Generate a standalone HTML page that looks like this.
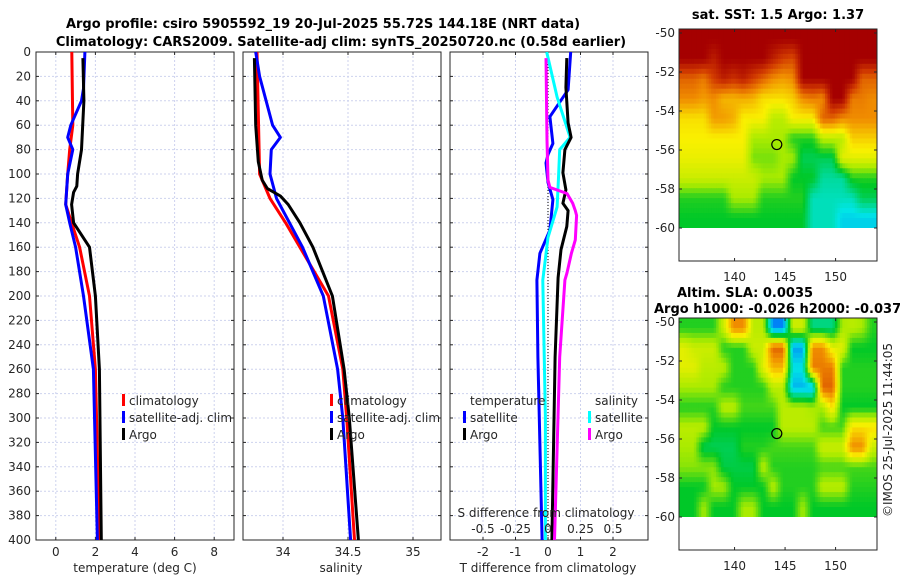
<!DOCTYPE html>
<html><head><meta charset="utf-8"><style>
body{margin:0;background:#fff;}
svg{display:block;font-family:"DejaVu Sans","Liberation Sans",sans-serif;}
.tk{font-size:12px;fill:#262626;}
.tt{font-size:13px;font-weight:bold;fill:#000;}
</style></head><body>
<svg id="fig" width="900" height="580" viewBox="0 0 900 580">
<defs>
<clipPath id="c1"><rect x="36" y="52" width="198" height="488"/></clipPath>
<clipPath id="c2"><rect x="243" y="52" width="198" height="488"/></clipPath>
<clipPath id="c3"><rect x="450" y="52" width="198" height="488"/></clipPath>
<clipPath id="cm1"><rect x="679" y="29" width="198" height="232"/></clipPath>
<clipPath id="cm2"><rect x="679" y="318" width="198" height="232"/></clipPath>
</defs>
<g>
<text class="tt" x="323" y="28" text-anchor="middle">Argo profile: csiro 5905592_19 20-Jul-2025 55.72S 144.18E (NRT data)</text>
<text class="tt" x="341" y="46" text-anchor="middle">Climatology: CARS2009. Satellite-adj clim: synTS_20250720.nc (0.58d earlier)</text>
</g>
<g id="p1"></g>
<g id="p2"></g>
<g id="p3"></g>
<g id="m1"></g>
<g id="m2"></g>
<text class="tk" transform="translate(892,430) rotate(-90)" text-anchor="middle">©IMOS 25-Jul-2025 11:44:05</text>
</svg>
<script>
// ---- profile data ----
const depthTick = [0,20,40,60,80,100,120,140,160,180,200,220,240,260,280,300,320,340,360,380,400];
const tempTicks = [0,2,4,6,8];
const salTicks = [34,34.5,35];
const salTickLabels = ["34","34.5","35"];
const dTTicks = [-2,-1,0,1,2];
const dSTickLabels = ["-0.5","-0.25","0","0.25","0.5"];
const dSTicks = [-0.5,-0.25,0,0.25,0.5];

const tClimDepth = [0,60,80,100,125,140,160,200,260,400];
const tClimVal   = [0.81,0.86,0.7,0.6,0.5,0.8,1.2,1.7,2.0,2.2];
const tSatDepth  = [0,30,40,60,70,80,100,125,140,160,200,260,400];
const tSatVal    = [1.47,1.4,1.3,0.76,0.6,0.86,0.6,0.5,0.7,1.0,1.4,1.9,2.1];
const tArgoDepth = [5,40,80,100,110,115,125,140,160,200,260,400];
const tArgoVal   = [1.37,1.42,1.3,1.1,1.06,0.9,0.8,0.9,1.7,2.0,2.2,2.3];

const sClimDepth = [0,100,120,140,160,200,260,300,400];
const sClimVal   = [33.80,33.82,33.90,34.02,34.13,34.35,34.46,34.49,34.55];
const sSatDepth  = [0,20,40,60,70,80,100,120,140,160,200,260,300,400];
const sSatVal    = [33.79,33.82,33.87,33.92,33.98,33.91,33.90,33.95,34.05,34.15,34.31,34.42,34.46,34.52];
const sArgoDepth = [5,60,90,105,112,118,125,140,160,200,260,300,400];
const sArgoVal   = [33.78,33.79,33.81,33.84,33.88,33.98,34.04,34.13,34.23,34.38,34.47,34.51,34.58];

const dTSatDepth = [0,31,53,75,84,91,107,121,146,165,187,250,400];
const dTSatVal   = [0.7,0.62,0.06,0.15,0,-0.06,0,0.15,0.06,-0.25,-0.34,-0.31,-0.18];
const dSSatDepth = [0,37,70,80,105,127,152,187,300,400];
const dSSatVal   = [-0.01,0.07,0.17,0.09,0.08,0.07,0,-0.04,-0.02,-0.02];
const dTArgoDepth = [5,29,58,70,80,99,113,124,130,143,162,185,250,400];
const dTArgoVal   = [0.58,0.55,0.62,0.71,0.52,0.46,0.55,0.46,0.62,0.58,0.4,0.31,0.22,0.12];
const dSArgoDepth = [5,72,105,111,116,124,130,134,154,165,181,187,250,400];
const dSArgoVal   = [-0.015,-0.008,0,0.015,0.146,0.19,0.21,0.22,0.21,0.18,0.146,0.13,0.09,0.05];

// ---- map data (rows lat -50..-60, cols lon 134.5..154 in ~1 deg) ----
const mapLatTicks = [-50,-52,-54,-56,-58,-60];
const mapLonTicks = [140,145,150];
const argoLon = 144.18, argoLat = -55.72;
const sstGrid = [
[1,1,1,1,1,1,1,1,1,1,1,1,1,1,1,1,1,1,1,1],
[1,1,1,.95,1,1,1,1,1,.95,.9,.88,1,1,1,1,1,1,1,1],
[.85,.85,.82,.9,.95,.92,.95,.9,.85,.8,.78,.8,1,1,1,1,1,1,.85,.85],
[.8,.8,.78,.8,.75,.75,.76,.75,.7,.7,.7,.72,.8,.82,.8,1,1,.82,.82,.8],
[.7,.7,.7,.78,.78,.76,.68,.68,.68,.6,.6,.68,.68,.68,.85,.85,.8,.8,.8,.8],
[.68,.68,.68,.68,.68,.68,.68,.58,.58,.58,.58,.5,.5,.5,.6,.6,.6,.72,.72,.72],
[.66,.66,.66,.66,.66,.66,.66,.55,.55,.55,.58,.58,.45,.45,.45,.45,.65,.65,.65,.65],
[.62,.62,.62,.62,.62,.62,.62,.62,.58,.58,.58,.48,.48,.48,.4,.4,.4,.5,.5,.5],
[.5,.5,.5,.5,.5,.58,.58,.58,.5,.5,.5,.5,.5,.38,.38,.38,.38,.38,.45,.45],
[.48,.48,.48,.48,.48,.48,.48,.48,.48,.48,.48,.48,.48,.38,.38,.38,.33,.33,.33,.33]
];
const slaGrid = [
[.5,.5,.5,.5,.62,.8,.8,.6,.6,.25,.25,.62,.62,.42,.42,.42,.58,.6,.58,.5],
[.65,.62,.62,.62,.5,.5,.5,.62,.62,.85,.85,.28,.28,.8,.8,.65,.65,.48,.48,.48],
[.65,.65,.6,.6,.6,.5,.5,.5,.65,.75,.75,.35,.35,.82,.82,.82,.5,.5,.5,.5],
[.58,.58,.58,.58,.5,.5,.5,.5,.5,.6,.6,.3,.3,.3,.85,.85,.5,.5,.5,.5],
[.5,.5,.5,.5,.6,.6,.52,.52,.52,.52,.6,.6,.6,.58,.58,.7,.48,.48,.48,.48],
[.6,.6,.6,.48,.48,.48,.48,.48,.48,.48,.6,.6,.6,.6,.52,.52,.52,.7,.7,.7],
[.58,.58,.45,.45,.45,.45,.5,.5,.5,.52,.52,.52,.52,.52,.62,.62,.62,.8,.8,.62],
[.56,.56,.56,.56,.46,.46,.46,.46,.6,.5,.5,.5,.5,.5,.52,.52,.52,.52,.52,.52],
[.48,.48,.48,.58,.58,.48,.48,.48,.48,.6,.5,.5,.5,.5,.6,.6,.6,.5,.5,.5],
[.48,.48,.58,.48,.48,.48,.58,.58,.48,.48,.48,.48,.58,.48,.48,.48,.48,.48,.48,.48]
];

const NS="http://www.w3.org/2000/svg";
function el(tag, attrs, parent){const e=document.createElementNS(NS,tag);for(const k in attrs)e.setAttribute(k,attrs[k]);parent.appendChild(e);return e;}
function txt(parent,x,y,s,anchor,cls){const t=el('text',{x:x,y:y,'text-anchor':anchor||'middle',class:cls||'tk'},parent);t.textContent=s;return t;}
const Y0=52,Y1=540;
const yS=d=>Y0+(d/400)*(Y1-Y0);
function lin(a,b,x0,x1){return v=>x0+(v-a)/(b-a)*(x1-x0);}

function panel(g,x0,xmin,xmax,xticks,xlabels,clip,showY){
  const x1=x0+198, xs=lin(xmin,xmax,x0,x1);
  for(const d of depthTick){
    const l=el('line',{x1:x0,x2:x1,y1:yS(d),y2:yS(d),stroke:'#cdd2ee','stroke-width':1,'stroke-dasharray':'2,2'},g);
    
    
    el('line',{x1:x0,x2:x0+3,y1:yS(d),y2:yS(d),stroke:'#262626'},g);
    el('line',{x1:x1,x2:x1-3,y1:yS(d),y2:yS(d),stroke:'#262626'},g);
    if(showY){const t=txt(g,31,yS(d)+4,String(d),'end');
      
      }
  }
  xticks.forEach((v,i)=>{
    const l=el('line',{x1:xs(v),x2:xs(v),y1:Y0,y2:Y1,stroke:'#cdd2ee','stroke-width':1,'stroke-dasharray':'2,2'},g);
    
    
    el('line',{x1:xs(v),x2:xs(v),y1:Y1,y2:Y1-3,stroke:'#262626'},g);
    el('line',{x1:xs(v),x2:xs(v),y1:Y0,y2:Y0+3,stroke:'#262626'},g);
    const t=txt(g,xs(v),556,xlabels[i]);
    
    
  });
  const r=el('rect',{x:x0,y:Y0,width:198,height:488,fill:'none',stroke:'#262626','stroke-width':1},g);
  
  
  return xs;
}
function line(g,xs,depths,vals,color,clip,name){
  const d=depths.map((dd,i)=>(i?'L':'M')+xs(vals[i]).toFixed(1)+','+yS(dd).toFixed(1)).join('');
  const p=el('path',{d:d,fill:'none',stroke:color,'stroke-width':3,'stroke-linejoin':'round','clip-path':'url(#'+clip+')'},g);
  
  
}
function legend(g,x,y,color,label){
  el('rect',{x:x,y:y-11,width:3,height:12,fill:color},g);
  const t=txt(g,x+7,y,label,'start');
  
  
}

// Panel 1
const p1=document.getElementById('p1');
const xs1=panel(p1,36,-1,9,tempTicks,tempTicks.map(String),'c1',true);
line(p1,xs1,tClimDepth,tClimVal,'#ff0000','c1','temp-climatology-line');
line(p1,xs1,tSatDepth,tSatVal,'#0000ff','c1','temp-satellite-line');
line(p1,xs1,tArgoDepth,tArgoVal,'#000000','c1','temp-argo-line');
legend(p1,122,405,'#ff0000','climatology');
legend(p1,122,422,'#0000ff','satellite-adj. clim');
legend(p1,122,439,'#000000','Argo');
txt(p1,135,572,'temperature (deg C)');

// Panel 2
const p2=document.getElementById('p2');
const xs2=panel(p2,243,33.6923,35.2154,salTicks,salTickLabels,'c2',false);
line(p2,xs2,sClimDepth,sClimVal,'#ff0000','c2','sal-climatology-line');
line(p2,xs2,sSatDepth,sSatVal,'#0000ff','c2','sal-satellite-line');
line(p2,xs2,sArgoDepth,sArgoVal,'#000000','c2','sal-argo-line');
legend(p2,330,405,'#ff0000','climatology');
legend(p2,330,422,'#0000ff','satellite-adj. clim');
legend(p2,330,439,'#000000','Argo');
txt(p2,341,572,'salinity');

// Panel 3
const p3=document.getElementById('p3');
const xs3=panel(p3,450,-3.015,3.077,dTTicks,dTTicks.map(String),'c3',false);
const xsS=v=>xs3(v*4);
el('line',{x1:xs3(0),x2:xs3(0),y1:Y0,y2:Y1,stroke:'#000','stroke-width':1,'stroke-dasharray':'1,2'},p3);
line(p3,xs3,dTSatDepth,dTSatVal,'#0000ff','c3','dtemp-satellite-line');
line(p3,xsS,dSSatDepth,dSSatVal,'#00ffff','c3','dsal-satellite-line');
line(p3,xs3,dTArgoDepth,dTArgoVal,'#000000','c3','dtemp-argo-line');
line(p3,xsS,dSArgoDepth,dSArgoVal,'#ff00ff','c3','dsal-argo-line');
txt(p3,470,405,'temperature','start');
legend(p3,463,422,'#0000ff','satellite');
legend(p3,463,439,'#000000','Argo');
txt(p3,595,405,'salinity','start');
legend(p3,588,422,'#00ffff','satellite');
legend(p3,588,439,'#ff00ff','Argo');
txt(p3,546,517,'S difference from climatology');
dSTicks.forEach((v,i)=>{const t=txt(p3,xsS(v),533,dSTickLabels[i]);
  
  });
txt(p3,548,572,'T difference from climatology');

// colormap (jet-like)
const cmStops=[[0,[0,0,160]],[0.2,[0,80,255]],[0.35,[0,230,230]],[0.48,[0,200,40]],[0.58,[170,235,0]],[0.68,[250,240,0]],[0.8,[240,140,0]],[0.9,[210,60,0]],[1,[165,0,0]]];
function cmap(v){for(let i=1;i<cmStops.length;i++){if(v<=cmStops[i][0]){const a=cmStops[i-1],b=cmStops[i],f=(v-a[0])/(b[0]-a[0]);return 'rgb('+a[1].map((c,k)=>Math.round(c+(b[1][k]-c)*f)).join(',')+')';}}return 'rgb(165,0,0)';}
function sample(grid,r,c){ // bilinear on cell centres
  const R=grid.length,C=grid[0].length;
  r=Math.max(0,Math.min(R-1,r));c=Math.max(0,Math.min(C-1,c));
  const r0=Math.floor(r),c0=Math.floor(c),r1=Math.min(R-1,r0+1),c1=Math.min(C-1,c0+1),fr=r-r0,fc=c-c0;
  return (grid[r0][c0]*(1-fc)+grid[r0][c1]*fc)*(1-fr)+(grid[r1][c0]*(1-fc)+grid[r1][c1]*fc)*fr;
}

function mapPanel(g,y0,grid,clip){
  const x0=679,w=198,h=232;
  const lonS=lin(134.5,154.1,x0,x0+w);
  const latS=lin(-50,-60,y0+4,y0+199);
  const cells=el('g',{'clip-path':'url(#'+clip+')'},g);
  const R=grid.length,C=grid[0].length,sub=4;
  const top=y0, bot=latS(-60);
  const cw=w/(C*sub), ch=(bot-top)/(R*sub);
  for(let i=0;i<R*sub;i++)for(let j=0;j<C*sub;j++){
    const v=sample(grid,(i+0.5)/sub-0.5,(j+0.5)/sub-0.5);
    const rc=el('rect',{x:(x0+j*cw).toFixed(2),y:(top+i*ch).toFixed(2),width:(cw+0.6).toFixed(2),height:(ch+0.6).toFixed(2),fill:cmap(v)},cells);
    
    
  }
  el('rect',{x:x0,y:bot,width:w,height:y0+h-bot+2,fill:'#fff'},cells);
  const c=el('circle',{cx:lonS(argoLon),cy:latS(argoLat),r:5,fill:'none',stroke:'#000','stroke-width':1.2},g);
  
  
  el('rect',{x:x0,y:y0,width:w,height:h,fill:'none',stroke:'#262626'},g);
  mapLatTicks.forEach(v=>{el('line',{x1:x0,x2:x0+3,y1:latS(v),y2:latS(v),stroke:'#262626'},g);
    el('line',{x1:x0+w,x2:x0+w-3,y1:latS(v),y2:latS(v),stroke:'#262626'},g);
    const t=txt(g,675,latS(v)+4,String(v),'end');
    
    });
  mapLonTicks.forEach(v=>{el('line',{x1:lonS(v),x2:lonS(v),y1:y0+h,y2:y0+h-3,stroke:'#262626'},g);
    el('line',{x1:lonS(v),x2:lonS(v),y1:y0,y2:y0+3,stroke:'#262626'},g);
    const t=txt(g,lonS(v),y0+h+20,String(v));
    
    });
}
const m1=document.getElementById('m1');
mapPanel(m1,29,sstGrid,'cm1');
txt(m1,778,19,'sat. SST: 1.5 Argo: 1.37','middle','tt');
const m2=document.getElementById('m2');
mapPanel(m2,318,slaGrid,'cm2');
txt(m2,677,297,'Altim. SLA: 0.0035','start','tt');
txt(m2,654,313,'Argo h1000: -0.026 h2000: -0.037','start','tt');
</script>
</body></html>
